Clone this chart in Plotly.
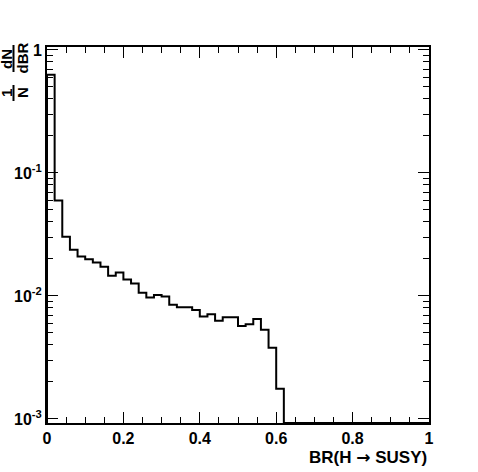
import plotly.graph_objects as go
import numpy as np

# ---- data ----
bin_edges = [round(0.02 * i, 2) for i in range(51)]
values = [
    0.63, 0.0596, 0.0303, 0.0238, 0.0209, 0.0199, 0.0187, 0.0173, 0.0146, 0.0155,
    0.0136, 0.0126, 0.0106, 0.0097, 0.0102, 0.0099, 0.0085, 0.0081, 0.0081, 0.0077,
    0.0068, 0.0071, 0.0063, 0.0067, 0.0067, 0.0057, 0.0059, 0.0065, 0.0053, 0.0038,
    0.00176, 0, 0, 0, 0, 0, 0, 0, 0, 0,
    0, 0, 0, 0, 0, 0, 0, 0, 0, 0,
]
x_tick_vals = [0, 0.2, 0.4, 0.6, 0.8, 1]
x_tick_text = ["0", "0.2", "0.4", "0.6", "0.8", "1"]
y_tick_vals = [1e-3, 1e-2, 1e-1, 1]
y_tick_text = ["10<sup>-3</sup>", "10<sup>-2</sup>", "10<sup>-1</sup>", "1"]

y_range_log = [-3.033, 0.024]
ymin = 10 ** y_range_log[0]

# histogram outline (zero bins drawn at frame bottom, as ROOT does)
vals_plot = [v if v > 0 else ymin for v in values]
xs = [bin_edges[0]] + bin_edges[:-1] + [bin_edges[-1]]
ys = [ymin] + vals_plot + [vals_plot[-1]]

FONT = "Liberation Sans"

fig = go.Figure()
fig.add_trace(go.Scatter(
    x=xs, y=ys, mode="lines", line=dict(shape="hv", color="black", width=2),
    hoverinfo="skip", showlegend=False, cliponaxis=True,
))

y_minor = [m * 10 ** e for e in range(-3, 0) for m in range(2, 10)]

fig.update_layout(
    width=478, height=472,
    margin=dict(l=47, r=49, t=47, b=49, autoexpand=False),
    paper_bgcolor="white", plot_bgcolor="white",
    font=dict(family=FONT, color="black", size=16),
    xaxis=dict(
        range=[0, 1], showgrid=False, zeroline=False, automargin=False,
        showline=True, linewidth=2, linecolor="black", mirror="allticks",
        ticks="inside", ticklen=11, tickwidth=1, tickcolor="black",
        tickvals=x_tick_vals, ticktext=["<b>%s</b>" % t for t in x_tick_text],
        tickfont=dict(size=16, family=FONT),
        minor=dict(dtick=0.05, tick0=0, ticks="inside", ticklen=6, tickwidth=1, tickcolor="black", showgrid=False),
    ),
    yaxis=dict(
        type="log", range=y_range_log, showgrid=False, zeroline=False, automargin=False,
        showline=True, linewidth=2, linecolor="black", mirror="allticks",
        ticks="inside", ticklen=11, tickwidth=1, tickcolor="black",
        tickvals=y_tick_vals, ticktext=["<b>%s</b>" % t for t in y_tick_text],
        tickfont=dict(size=16, family=FONT),
        minor=dict(tickvals=y_minor, ticks="inside", ticklen=6, tickwidth=1, tickcolor="black", showgrid=False),
    ),
)

# x-axis title (right aligned)
fig.add_annotation(
    text="<b>BR(H <span style='font-family:DejaVu Sans'>→</span> SUSY)</b>", xref="paper", yref="paper",
    x=1.0, y=-0.09, xanchor="right", yanchor="middle", showarrow=False,
    font=dict(size=17, family=FONT),
)

# y-axis title as a rotated fraction: 1/N dN/dBR
def px_x(p):
    return (p - 47) / 382.0

def px_y(p):
    return 1 - (p - 47) / 376.0

for txt, cx, cy in [("1", 6.5, 93.5), ("N", 22.0, 93.0), ("dN", 6.5, 59.5), ("dBR", 22.0, 58.5)]:
    fig.add_annotation(
        text="<b>%s</b>" % txt, xref="paper", yref="paper",
        x=px_x(cx), y=px_y(cy), xanchor="center", yanchor="middle",
        textangle=-90, showarrow=False, font=dict(size=15, family=FONT),
    )
for y0, y1 in [(85, 101), (45, 72)]:
    fig.add_shape(type="line", xref="paper", yref="paper",
                  x0=px_x(13.5), x1=px_x(13.5), y0=px_y(y0), y1=px_y(y1),
                  line=dict(color="black", width=2))

fig.write_html("out.html", post_script="document.body.style.margin='0';",
               config={"displayModeBar": False})
